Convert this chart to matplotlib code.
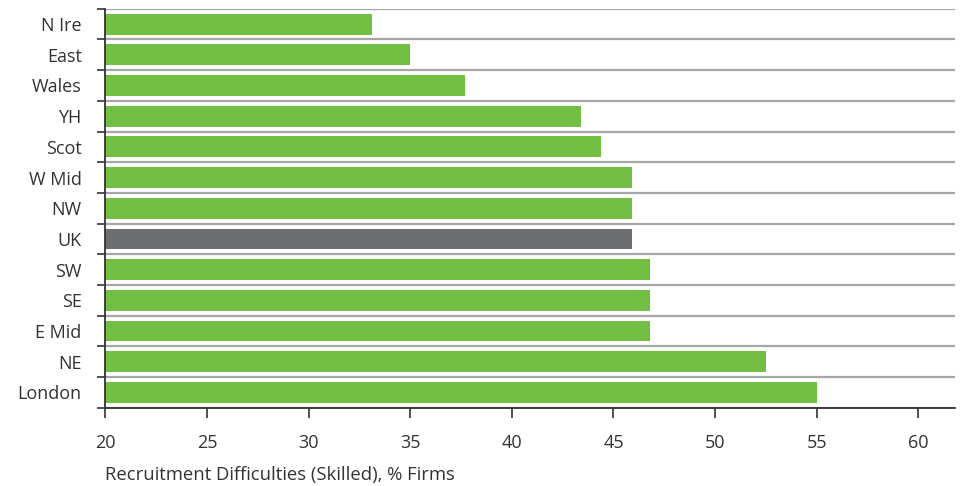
import numpy as np
import matplotlib.pyplot as plt
from matplotlib.ticker import FixedLocator

regions = ['N Ire', 'East', 'Wales', 'YH', 'Scot', 'W Mid', 'NW', 'UK',
           'SW', 'SE', 'E Mid', 'NE', 'London']
values = [33.1, 35.0, 37.7, 43.4, 44.4, 45.9, 45.9, 45.9,
          46.8, 46.8, 46.8, 52.5, 55.0]
xticks = [20, 25, 30, 35, 40, 45, 50, 55, 60]

green = '#72bf44'
grey = '#6d6e71'
text_col = '#333333'

plt.rcParams['font.family'] = ['Open Sans', 'DejaVu Sans']

fig = plt.figure(figsize=(9.62, 4.86), dpi=100)
ax = fig.add_axes([0.1095, 0.161, 0.8832, 0.821])

pos = np.arange(len(regions))
colors = [grey if r == 'UK' else green for r in regions]
ax.barh(pos, np.array(values) - 20, left=20, height=0.68, color=colors, zorder=3)

ax.set_xlim(20, 61.8)
ax.set_ylim(len(regions) - 0.5, -0.5)

# labels sit at bar centres, tick marks and grid lines on the boundaries
ax.set_yticks(pos)
ax.set_yticklabels(regions)
ax.yaxis.set_minor_locator(FixedLocator(np.arange(-0.5, len(regions), 1.0)))
ax.tick_params(axis='y', which='major', length=0, pad=17, labelsize=13, labelcolor=text_col)
ax.tick_params(axis='y', which='minor', length=6, width=1.2, color=text_col, direction='out')
ax.grid(axis='y', which='minor', color='#a6a6a6', linewidth=1.6, zorder=1)

ax.set_xticks(xticks)
ax.tick_params(axis='x', length=7, width=1.2, color=text_col, pad=12,
               labelsize=13, labelcolor=text_col)

for side in ['top', 'right']:
    ax.spines[side].set_visible(False)
for side in ['left', 'bottom']:
    ax.spines[side].set_color(text_col)
    ax.spines[side].set_linewidth(1.3)
    ax.spines[side].set_zorder(4)

fig.text(0.1095, 0.023, 'Recruitment Difficulties (Skilled), % Firms',
         fontsize=13.3, color=text_col, ha='left', va='center')

fig.savefig('out.png', dpi=100)
